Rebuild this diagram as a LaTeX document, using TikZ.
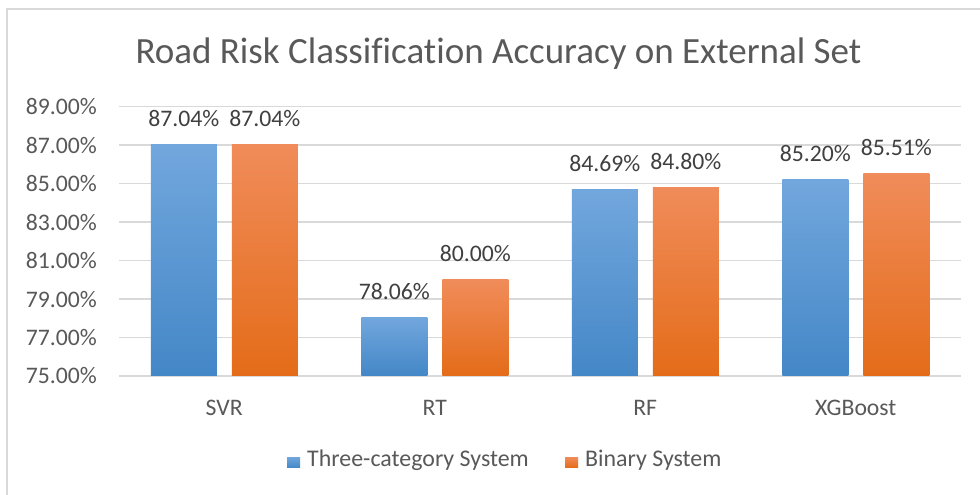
\documentclass[tikz,border=0pt]{standalone}
\usepackage{fontspec}
\setmainfont[Ligatures=NoCommon]{Carlito}
\definecolor{gridc}{HTML}{D9D9D9}
\definecolor{axtext}{HTML}{595959}
\definecolor{labtext}{HTML}{404040}
\definecolor{btop}{HTML}{72A7DD}
\definecolor{bmid}{HTML}{5597DA}
\definecolor{bbot}{HTML}{4487C7}
\definecolor{otop}{HTML}{F08C5A}
\definecolor{omid}{HTML}{F48032}
\definecolor{obot}{HTML}{E46C19}
\begin{document}
\begin{tikzpicture}[x=1pt,y=-1pt,
  gridline/.style={draw=gridc,line width=1.5pt},
  ticklab/.style={anchor=east,inner sep=0pt,text=axtext,font=\fontsize{23.7}{28}\selectfont},
  catlab/.style={anchor=base,inner sep=0pt,text=axtext,font=\fontsize{23.7}{28}\selectfont},
  datalab/.style={anchor=base,inner sep=0pt,text=labtext,font=\fontsize{23.7}{28}\selectfont},
  legtext/.style={anchor=base west,inner sep=0pt,text=axtext,font=\fontsize{23.9}{28}\selectfont},
  bluebar/.style={top color=btop,middle color=bmid,bottom color=bbot},
  orangebar/.style={top color=otop,middle color=omid,bottom color=obot}]
\useasboundingbox (0,0) rectangle (980,495);
\fill[white] (0,0) rectangle (980,495);
% chart frame (left and top visible)
\draw[draw=gridc,line width=2pt] (7,497) -- (7,9) -- (982,9);
% title
\node[anchor=base,inner sep=0pt,text=axtext,font=\fontsize{37}{44}\selectfont] (title) at (498.5,63.5) {Road Risk Classification Accuracy on External Set};
% gridlines and tick labels
\foreach \v/\lab in {75/75.00\%,77/77.00\%,79/79.00\%,81/81.00\%,83/83.00\%,85/85.00\%,87/87.00\%,89/89.00\%}{
  \pgfmathsetmacro{\yy}{376-(\v-75)*19.236}
  \draw[gridline] (119,\yy) -- (961,\yy);
  \node[ticklab] (tick\v) at (97,\yy) {\lab};
}
% bars
\foreach \i/\cat/\va/\vb in {0/SVR/87.04/87.04,1/RT/78.06/80.00,2/RF/84.69/84.80,3/XGBoost/85.20/85.51}{
  \pgfmathsetmacro{\c}{119+210.5*(\i+0.5)}
  \pgfmathsetmacro{\ya}{376-(\va-75)*19.236}
  \pgfmathsetmacro{\yb}{376-(\vb-75)*19.236}
  \shade[bluebar] (\c-73.5,\ya) rectangle (\c-7.5,375.2);
  \shade[orangebar] (\c+7.5,\yb) rectangle (\c+73.5,375.2);
  \node[datalab] (la\i) at (\c-40.5,\ya-18) {\va\%};
  \node[datalab] (lb\i) at (\c+40.5,\yb-18) {\vb\%};
  \node[catlab] (cat\i) at (\c,415) {\cat};
}
% legend
\shade[bluebar] (287,457) rectangle (300,467.5);
\node[legtext] (leg1) at (307,466.5) {Three-category System};
\shade[orangebar] (565,457) rectangle (578,467.5);
\node[legtext] (leg2) at (585,466.5) {Binary System};
\end{tikzpicture}
\end{document}
